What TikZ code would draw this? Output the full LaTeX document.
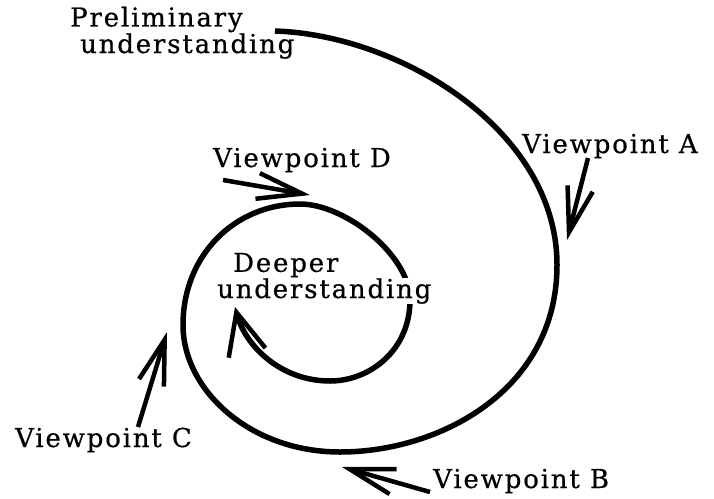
\documentclass[tikz,border=0pt]{standalone}
\usepackage{fontspec}
\setmainfont{DejaVu Serif}[LetterSpace=7, FakeBold=0.6]
\usetikzlibrary{arrows.meta}
\tikzset{
  lbl/.style={anchor=base west, inner sep=0pt, font=\fontsize{26}{21}\selectfont},
  spiral/.style={line width=5.5pt, line cap=butt},
  vparrow/.style={line width=4.5pt, -{Straight Barb[length=45pt, width=26pt]}},
  endarrow/.style={-{Straight Barb[length=42pt, width=38pt, line width=4.5pt]}}
}
\begin{document}
\begin{tikzpicture}[x=1pt,y=-1pt]
\useasboundingbox (0,0) rectangle (714,498);
% spiral
\coordinate (s0) at (275,31);
\coordinate (s1) at (557,265);
\coordinate (s2) at (340,452);
\coordinate (s3) at (183,325);
\coordinate (s4) at (300,204);
\coordinate (s5) at (410,300);
\coordinate (s6) at (330,381);
\coordinate (s7) at (235,307);
\draw[spiral, endarrow] (s0)
  .. controls (400,35) and (557,130) .. (s1)
  .. controls (557,390) and (440,452) .. (s2)
  .. controls (250,452) and (183,390) .. (s3)
  .. controls (183,255) and (235,204) .. (s4)
  .. controls (345,204) and (410,255) .. (s5)
  .. controls (410,350) and (370,381) .. (s6)
  .. controls (280,381) and (245,345) .. (s7);
% labels
\node[lbl, align=left] (prelim) at (70,53) {Preliminary\\\hspace*{10pt}understanding};
\node[lbl] (vpA) at (522,153) {Viewpoint A};
\node[lbl] (vpD) at (213,167) {Viewpoint D};
\node[lbl, align=left, font=\fontsize{26}{25}\selectfont] (deeper) at (217,298)
  {\hspace*{16pt}Deeper\\{\setlength{\fboxsep}{0pt}\colorbox{white}{understanding}}};
\node[lbl] (vpC) at (15,447) {Viewpoint C};
\node[lbl] (vpB) at (433,488) {Viewpoint B};
% viewpoint arrows
\coordinate (aTail) at (588,158); \coordinate (aTip) at (567,240);
\coordinate (dTail) at (223,180); \coordinate (dTip) at (310,195);
\coordinate (cTail) at (138,427); \coordinate (cTip) at (167,332);
\coordinate (bTail) at (430,492); \coordinate (bTip) at (342,467);
\draw[vparrow] (aTail) -- (aTip);
\draw[vparrow] (dTail) -- (dTip);
\draw[vparrow] (cTail) -- (cTip);
\draw[vparrow] (bTail) -- (bTip);
\end{tikzpicture}
\end{document}
